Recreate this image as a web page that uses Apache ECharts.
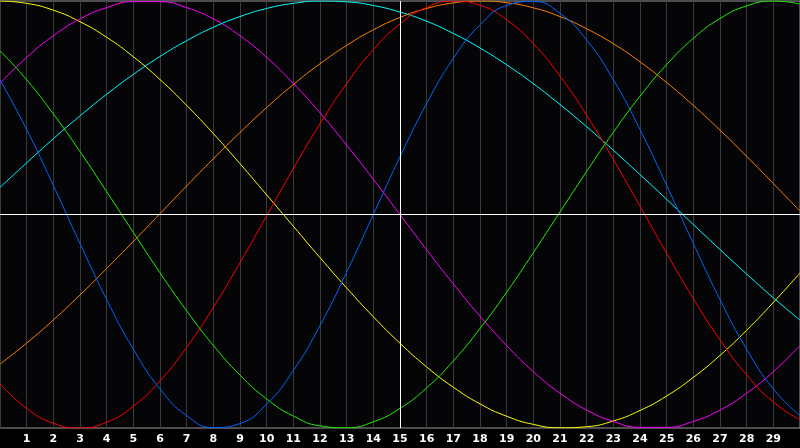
<!DOCTYPE html>
<html>
<head>
<meta charset="utf-8">
<script src="https://cdn.jsdelivr.net/npm/echarts@6/dist/echarts.min.js"></script>
<style>
html,body{margin:0;padding:0;background:#000;}
#c{width:800px;height:448px;}
</style>
</head>
<body>
<div id="c"></div>
<script>
var xs = [0,1,2,3,4,5,6,7,8,9,10,11,12,13,14,15,16,17,18,19,20,21,22,23,24,25,26,27,28,29,30];

var yellow = [1.000,0.989,0.957,0.903,0.830,0.739,0.632,0.511,0.379,0.238,0.092,-0.055,-0.202,-0.344,-0.479,-0.603,-0.714,-0.809,-0.887,-0.945,-0.983,-0.999,-0.994,-0.967,-0.918,-0.850,-0.763,-0.660,-0.542,-0.412,-0.274];
var magenta = [0.614,0.736,0.837,0.916,0.969,0.997,0.997,0.969,0.916,0.837,0.736,0.614,0.476,0.325,0.165,0.000,-0.165,-0.325,-0.476,-0.614,-0.736,-0.837,-0.916,-0.969,-0.997,-0.997,-0.969,-0.916,-0.837,-0.736,-0.614];
var cyan = [0.127,0.242,0.355,0.462,0.563,0.656,0.740,0.814,0.877,0.927,0.965,0.989,1.000,0.996,0.979,0.948,0.905,0.848,0.780,0.701,0.613,0.515,0.411,0.301,0.187,0.071,-0.047,-0.164,-0.279,-0.390,-0.495];
var orange = [-0.701,-0.602,-0.494,-0.377,-0.253,-0.126,0.004,0.134,0.261,0.384,0.501,0.609,0.706,0.792,0.865,0.923,0.965,0.991,1.000,0.992,0.968,0.927,0.870,0.800,0.715,0.618,0.511,0.395,0.272,0.145,0.016];
var red = [-0.793,-0.908,-0.978,-1.000,-0.973,-0.898,-0.779,-0.622,-0.435,-0.226,-0.006,0.215,0.425,0.613,0.772,0.893,0.970,1.000,0.980,0.912,0.800,0.648,0.465,0.258,0.039,-0.182,-0.394,-0.587,-0.751,-0.878,-0.962];
var blue = [0.631,0.398,0.136,-0.136,-0.398,-0.631,-0.817,-0.942,-0.998,-0.979,-0.888,-0.731,-0.520,-0.270,0.000,0.270,0.520,0.731,0.888,0.979,0.998,0.942,0.817,0.631,0.398,0.136,-0.136,-0.398,-0.631,-0.817,-0.942];
var green = [0.767,0.631,0.471,0.295,0.107,-0.084,-0.273,-0.451,-0.613,-0.752,-0.864,-0.944,-0.990,-0.999,-0.971,-0.908,-0.812,-0.686,-0.534,-0.364,-0.179,0.012,0.202,0.385,0.554,0.702,0.825,0.918,0.977,1.000,0.986];

var seriesDefs = [
  {name:'yellow', data:yellow, color:'#ffff00'},
  {name:'magenta', data:magenta, color:'#ff00ff'},
  {name:'cyan', data:cyan, color:'#00ffff'},
  {name:'orange', data:orange, color:'#ff8000'},
  {name:'red', data:red, color:'#ff0000'},
  {name:'blue', data:blue, color:'#0066ff'},
  {name:'green', data:green, color:'#22ee00'}
];

function pairs(arr){ return xs.map(function(x,i){ return [x, arr[i]]; }); }

var series = seriesDefs.map(function(d){
  return {
    name: d.name, type:'line', data: pairs(d.data), smooth: true, showSymbol:false,
    lineStyle:{color:d.color, width:1}, itemStyle:{color:d.color}, silent:true, animation:false, z:3
  };
});
series.push({
  type:'line', data:[], silent:true, animation:false, z:2,
  markLine:{
    silent:true, symbol:['none','none'], label:{show:false}, animation:false,
    lineStyle:{color:'#ffffff', width:1, type:'solid'},
    data:[{xAxis:15},{yAxis:0}]
  }
});

var chart = echarts.init(document.getElementById('c'));
chart.setOption({
  backgroundColor:'#000000',
  animation:false,
  grid:{left:0, right:0, top:1, bottom:20, show:true, backgroundColor:'#050508', borderColor:'#9a9a9a', borderWidth:1},
  xAxis:{
    type:'value', min:0, max:30, interval:1,
    axisLine:{show:false}, axisTick:{show:false},
    axisLabel:{color:'#ffffff', fontWeight:'bold', fontSize:11, fontFamily:'DejaVu Sans', margin:6, showMinLabel:false, showMaxLabel:false},
    splitLine:{show:true, lineStyle:{color:'#3a3a3a', width:1}}
  },
  yAxis:{
    type:'value', min:-1, max:1, show:true,
    axisLine:{show:false}, axisTick:{show:false}, axisLabel:{show:false},
    splitLine:{show:false}
  },
  series: series
});
</script>
</body>
</html>
